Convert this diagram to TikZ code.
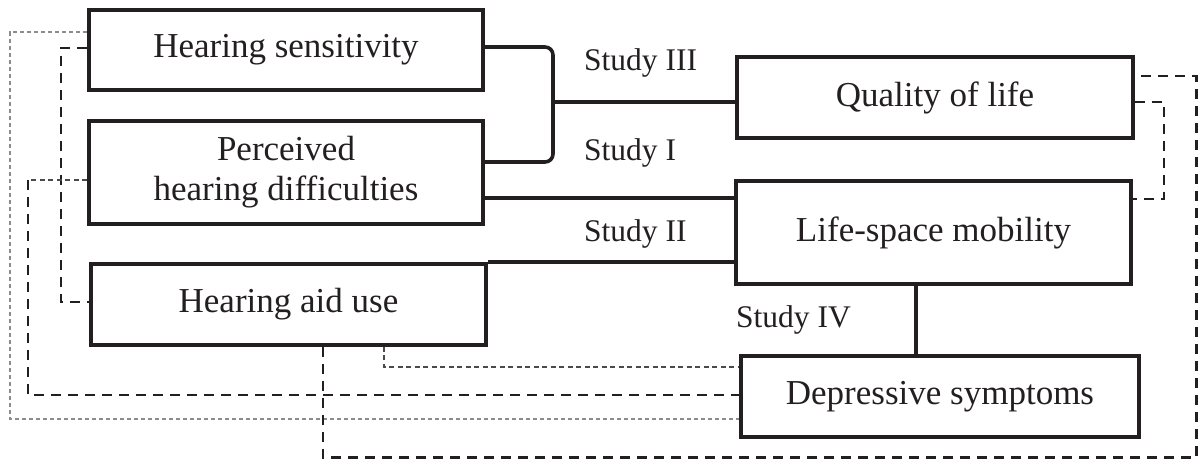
\documentclass[tikz,border=0pt]{standalone}
\usepackage{fontspec}
\setmainfont{Liberation Serif}
\definecolor{ink}{HTML}{231F20}
\definecolor{dgrey}{HTML}{4A4A4A}
\definecolor{lgrey}{HTML}{8C8C8C}
\begin{document}
\begin{tikzpicture}[x=1pt,y=-1pt,
  box/.style={draw=ink, line width=3.6pt, inner sep=0pt, align=center,
    font=\fontsize{35}{40}\selectfont, text=ink},
  lbl/.style={inner sep=0pt, anchor=base west, font=\fontsize{31.5}{36}\selectfont, text=ink},
  conn/.style={draw=ink, line width=3.6pt},
  dmed/.style={draw=ink, line width=2.8pt, dash pattern=on 10pt off 7pt},
  dthin/.style={draw=dgrey, line width=1.3pt, dash pattern=on 5pt off 3.5pt},
  dgray/.style={draw=lgrey, line width=1.4pt, dash pattern=on 4pt off 3pt}]
\useasboundingbox (0,0) rectangle (1198,459);

% boxes
\node[box, minimum width=394pt, minimum height=80pt]  (HS)  at (286,50)    {Hearing sensitivity};
\node[box, minimum width=394pt, minimum height=103pt] (PH)  at (286,172.5) {Perceived\\hearing difficulties};
\node[box, minimum width=395pt, minimum height=81pt]  (HA)  at (288.5,304.5) {Hearing aid use};
\node[box, minimum width=396pt, minimum height=81pt]  (QL)  at (935,97.5)  {Quality of life};
\node[box, minimum width=395pt, minimum height=103pt] (LS)  at (933.5,232.5) {Life-space mobility};
\node[box, minimum width=398pt, minimum height=81pt]  (DS)  at (940,396.5) {Depressive symptoms};

% labels
\node[lbl] (L3) at (584,70)  {Study III};
\node[lbl] (L1) at (584,160) {Study I};
\node[lbl] (L2) at (584,241) {Study II};
\node[lbl] (L4) at (736,327) {Study IV};

% solid connectors
\coordinate (b1) at (553,47);
\coordinate (b2) at (553,162);
\coordinate (bm) at (553,102);
\draw[conn, rounded corners=8pt] (HS.east |- b1) -- (b1) -- (b2) -- (PH.east |- b2);
\draw[conn] (bm) -- (QL.west |- bm);
\coordinate (s2) at (600,198);
\draw[conn] (PH.east |- s2) -- (LS.west |- s2);
\draw[conn] (HA.north east) -- (LS.west |- HA.north east);
\coordinate (s4) at (916,300);
\draw[conn] (LS.south -| s4) -- (DS.north -| s4);

% dashed connectors
\coordinate (g1) at (10,32);
\coordinate (g2) at (10,419);
\draw[dgray] (HS.west |- g1) -- (g1) -- (g2) -- (DS.west |- g2);

\coordinate (h1) at (61,48);
\coordinate (h2) at (61,302);
\draw[dmed] (HS.west |- h1) -- (h1) -- (h2) -- (HA.west |- h2);

\coordinate (p1) at (28,180);
\coordinate (p2) at (28,395);
\draw[dthin] (PH.west |- p1) -- (p1);
\draw[dmed] (p1) -- (p2) -- (DS.west |- p2);

\coordinate (a1) at (384,367);
\draw[dthin] (HA.south -| a1) -- (a1) -- (DS.west |- a1);

\coordinate (q1) at (323,457.5);
\coordinate (q2) at (1196.5,457.5);
\coordinate (q3) at (1196.5,76);
\draw[dmed] (HA.south -| q1) -- (q1) -- (q2) -- (q3) -- (QL.east |- q3);

\coordinate (m1) at (1164,102);
\coordinate (m2) at (1164,199);
\draw[dmed] (QL.east |- m1) -- (m1) -- (m2) -- (LS.east |- m2);
\end{tikzpicture}
\end{document}
